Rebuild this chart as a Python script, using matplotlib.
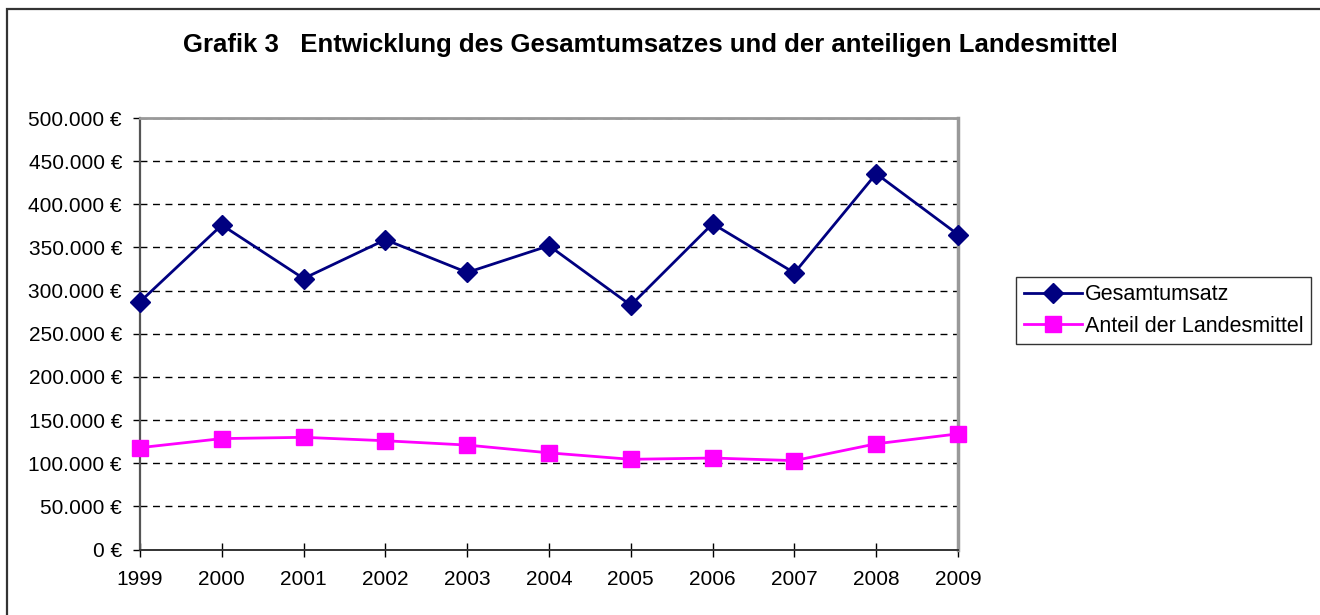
import matplotlib
matplotlib.use("Agg")
import matplotlib.pyplot as plt
from matplotlib.patches import Rectangle
from matplotlib.ticker import FuncFormatter

plt.rcParams["font.family"] = ["Liberation Sans", "DejaVu Sans"]

jahre = ["1999", "2000", "2001", "2002", "2003", "2004", "2005", "2006", "2007", "2008", "2009"]
gesamtumsatz = [287000, 376000, 314000, 359000, 321000, 352000, 283000, 377500, 320500, 435500, 365000]
landesmittel = [118000, 128500, 130000, 126000, 121000, 112000, 104500, 106000, 103000, 122500, 134000]

fig = plt.figure(figsize=(13.2, 6.15), dpi=100)
ax = fig.add_axes([140 / 1320, 1 - 549.5 / 615, (958 - 140) / 1320, (549.5 - 118) / 615])

x = range(len(jahre))
ax.plot(x, gesamtumsatz, color="#000080", lw=2, marker="D", ms=10, label="Gesamtumsatz", clip_on=False, zorder=4)
ax.plot(x, landesmittel, color="#ff00ff", lw=2, marker="s", ms=11, label="Anteil der Landesmittel", clip_on=False, zorder=4)

ax.set_xlim(0, len(jahre) - 1)
ax.set_ylim(0, 500000)
ax.set_xticks(list(x))
ax.set_xticklabels(jahre)
ax.set_yticks(range(0, 500001, 50000))
ax.yaxis.set_major_formatter(FuncFormatter(lambda v, p: "{:,.0f} €".format(v).replace(",", ".")))
ax.tick_params(axis="both", labelsize=15, color="#000000")
ax.tick_params(axis="y", direction="out", length=5, width=1, pad=8)
ax.tick_params(axis="x", direction="inout", length=10, width=1, pad=10)

ax.grid(axis="y", color="#000000", lw=1, linestyle=(0, (5, 4)))
ax.set_axisbelow(True)

ax.spines["left"].set_color("#555555")
ax.spines["left"].set_linewidth(1.6)
ax.spines["bottom"].set_color("#333333")
ax.spines["bottom"].set_linewidth(1.4)
ax.spines["top"].set_color("#999999")
ax.spines["top"].set_linewidth(2)
ax.spines["right"].set_color("#999999")
ax.spines["right"].set_linewidth(2.5)

fig.text(650 / 1320, 1 - 45 / 615, "Grafik 3   Entwicklung des Gesamtumsatzes und der anteiligen Landesmittel",
         ha="center", va="center", fontsize=18.5, fontweight="bold")

leg = ax.legend(loc="center left", bbox_to_anchor=(1016 / 1320, 1 - 310.5 / 615), bbox_transform=fig.transFigure,
                fontsize=15.5, frameon=True, fancybox=False, borderpad=0.35, handlelength=2.7,
                handletextpad=0.15, labelspacing=0.5, borderaxespad=0)
leg.get_frame().set_edgecolor("#000000")
leg.get_frame().set_linewidth(1)

fig.patches.append(Rectangle((7 / 1320, -0.1), 1.2, 1 - 9 / 615 + 0.1, transform=fig.transFigure,
                             fill=False, edgecolor="#333333", lw=1.6, clip_on=False))

fig.savefig("out.png", dpi=100)
